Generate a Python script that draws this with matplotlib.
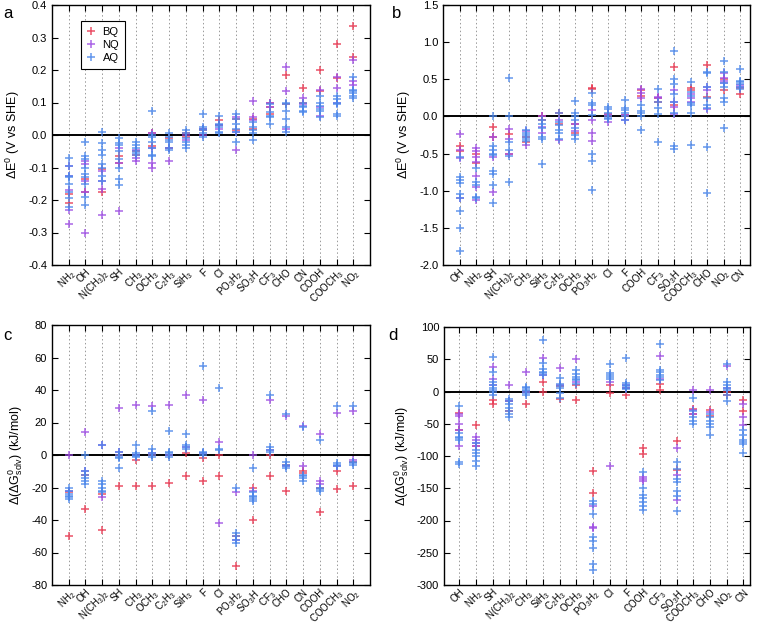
import matplotlib.pyplot as plt
import numpy as np

plt.rcParams['font.family'] = ['Liberation Sans', 'DejaVu Sans']
plt.rcParams['mathtext.default'] = 'regular'

# categories
cats_ac = ['NH$_2$', 'OH', 'N(CH$_3$)$_2$', 'SH', 'CH$_3$', 'OCH$_3$', 'C$_2$H$_3$', 'SiH$_3$', 'F',
           'Cl', 'PO$_3$H$_2$', 'SO$_3$H', 'CF$_3$', 'CHO', 'CN', 'COOH', 'COOCH$_3$', 'NO$_2$']
cats_bd = ['OH', 'NH$_2$', 'SH', 'N(CH$_3$)$_2$', 'CH$_3$', 'SiH$_3$', 'C$_2$H$_3$', 'OCH$_3$', 'PO$_3$H$_2$',
           'Cl', 'F', 'COOH', 'CF$_3$', 'SO$_3$H', 'COOCH$_3$', 'CHO', 'NO$_2$', 'CN']

# panel a: delta E0 (V vs SHE), gas phase
a_bq = [[-0.18, -0.21], [-0.135, -0.175], [-0.105, -0.175], [-0.065, -0.085], [-0.05, -0.06],
        [0.005, -0.035], [-0.04, -0.01], [0.005, -0.005], [0.015, 0.02], [0.045, 0.03],
        [0.05, 0.015], [0.05, 0.02], [0.1, 0.085, 0.065], [0.185, 0.095], [0.145, 0.1],
        [0.2, 0.135], [0.28, 0.175], [0.335, 0.24]]
a_nq = [[-0.095, -0.125, -0.17, -0.23, -0.275], [-0.08, -0.09, -0.14, -0.175, -0.3],
        [-0.11, -0.14, -0.165, -0.245], [-0.04, -0.085, -0.235], [-0.07, -0.08, -0.045],
        [-0.085, -0.1, -0.04, 0.005], [-0.08, -0.04], [0.0, -0.015], [0.0, 0.02], [0.03, 0.02],
        [0.055, 0.01, -0.045], [0.105, 0.055, 0.045], [0.1, 0.085], [0.21, 0.135, 0.02],
        [0.115, 0.095], [0.14, 0.085, 0.06], [0.18, 0.145, 0.1], [0.23, 0.165, 0.155]]
a_aq = [[-0.07, -0.095, -0.125, -0.13, -0.15, -0.175, -0.195, -0.22],
        [-0.02, -0.065, -0.075, -0.1, -0.12, -0.13, -0.15, -0.19, -0.215],
        [0.01, -0.025, -0.045, -0.06, -0.09, -0.1, -0.125, -0.14],
        [-0.01, -0.025, -0.03, -0.05, -0.075, -0.1, -0.135, -0.155],
        [-0.02, -0.03, -0.04, -0.05, -0.055, -0.06],
        [0.075, 0.0, -0.005, -0.02, -0.04, -0.06, -0.065],
        [0.005, -0.005, -0.015, -0.02, -0.04, -0.045],
        [0.015, 0.005, -0.01, -0.02, -0.03, -0.04],
        [0.065, 0.025, 0.02, 0.015, 0.005, -0.005],
        [0.06, 0.035, 0.03, 0.025, 0.01, 0.005],
        [0.065, 0.05, 0.035, 0.02, 0.01, -0.02],
        [0.04, 0.025, 0.015, 0.005, -0.015],
        [0.095, 0.07, 0.06, 0.055, 0.035],
        [0.1, 0.095, 0.075, 0.05, 0.025, 0.01],
        [0.1, 0.09, 0.085, 0.075, 0.07],
        [0.12, 0.1, 0.09, 0.08, 0.075, 0.055],
        [0.12, 0.11, 0.1, 0.095, 0.065, 0.06],
        [0.18, 0.14, 0.135, 0.13, 0.12, 0.115]]

# panel b: delta E0 (V vs SHE), solution
b_bq = [[-0.4, -0.47], [-0.63, -0.5], [-0.14, -0.28], [-0.24, -0.5], [-0.28, -0.35], [0.01, -0.05],
        [0.04, -0.1], [-0.22, -0.1], [0.38, 0.37], [0.03, 0.0], [0.0, 0.02], [0.35, 0.28],
        [0.2, 0.25], [0.67, 0.15], [0.38, 0.35], [0.69, 0.26], [0.5, 0.35], [0.3, 0.38]]
b_nq = [[-0.23, -0.45, -0.56, -1.1], [-0.42, -0.47, -0.55, -0.62, -0.8, -0.95, -1.12],
        [-0.28, -0.55, -1.02], [-0.17, -0.3, -0.5], [-0.38, -0.2], [0.0, -0.22, -0.14],
        [-0.32, -0.05], [-0.2, -0.1], [0.08, -0.05, -0.22, -0.33], [-0.07, 0.02], [-0.05, 0.02],
        [0.37, 0.32, 0.25], [0.26, 0.25], [0.35, 0.2, 0.13, 0.03], [0.3, 0.25, 0.2],
        [0.4, 0.35, 0.1], [0.58, 0.52, 0.48, 0.45], [0.42, 0.4]]
b_aq = [[-0.55, -0.82, -0.85, -0.9, -1.05, -1.1, -1.27, -1.5, -1.81],
        [-0.7, -0.88, -0.92, -1.08, -1.1],
        [0.0, -0.4, -0.45, -0.5, -0.52, -0.73, -0.78, -0.92, -1.16],
        [0.52, 0.01, -0.35, -0.45, -0.53, -0.88],
        [-0.18, -0.22, -0.25, -0.28, -0.3, -0.33],
        [-0.05, -0.1, -0.15, -0.28, -0.3, -0.64],
        [0.05, -0.08, -0.12, -0.18, -0.22, -0.3],
        [0.21, 0.05, 0.0, -0.05, -0.15, -0.25, -0.3],
        [0.32, 0.18, 0.15, 0.02, -0.5, -0.6, -0.99],
        [0.13, 0.1, 0.05, 0.0, -0.02, -0.03],
        [0.22, 0.12, 0.08, 0.05, 0.0, -0.05],
        [0.15, 0.07, 0.05, 0.0, -0.18],
        [0.37, 0.2, 0.12, 0.03, -0.34],
        [0.88, 0.5, 0.43, 0.3, 0.2, 0.05, -0.4, -0.44],
        [0.46, 0.33, 0.28, 0.18, 0.15, 0.05, -0.39],
        [0.6, 0.58, 0.4, 0.25, 0.15, 0.12, -0.41, -1.03],
        [0.75, 0.6, 0.45, 0.4, 0.25, 0.2, -0.15],
        [0.64, 0.48, 0.46, 0.43, 0.4, 0.37]]

# panel c: delta(delta G0 solv) (kJ/mol)
c_bq = [[-50, -23], [-33, -12], [-46, -24], [-19, 0], [-19, -3], [-19, 0], [-17, 0], [-13, 1],
        [-16, -2], [-13, 0], [-68, -50], [-40, -20], [-13, 0], [-22, -6], [-10, -11], [-35, -20],
        [-21, -10], [-19, -4]]
c_nq = [[0, -22], [14, -10], [6, -26], [29, 2], [31, 0], [30, 1], [31, 0], [37, 5], [34, 1],
        [8, -42], [-23, -52], [0, -22], [34, 3], [24, -7], [18, -7], [13, -16, -18], [26, -7], [27, -3]]
c_aq = [[-20, -22, -24, -25, -26, -27], [0, -10, -12, -14, -16, -18], [6, -16, -18, -20, -22, -23],
        [2, 0, -1, -2, -8], [6, 1, 0, -0.5, -1], [27, 4, 1, 0, -1], [15, 2, 1, 0, -1],
        [13, 6, 5, 4], [55, 2, 1, 0], [41, 3, 3.5], [-20, -48, -50, -52, -54],
        [-8, -23, -25, -26, -27, -28], [37, 5, 3, 2], [25, -4, -6, -7, -8], [17, -12, -13, -14, -16],
        [9, -20, -21, -22], [30, -5, -6, -7], [30, -4, -5, -6]]

# panel d: delta(delta G0 solv) (kJ/mol)
d_bq = [[-33, -60], [-52, -85], [-13, -20], [-15, -30], [-19, 0], [15, -1], [-12, 8], [-13, 10],
        [-123, -158], [10, -2], [-5, 5], [-87, -97], [12, 2], [-77, -122], [-35, -27], [-28, -38],
        [-5, 0], [-13, -30]]
d_nq = [[-35, -38, -50, -60, -85], [-70, -75, -80, -85], [38, 20, 10], [10, -15], [31, 0],
        [52, 25], [37, 10], [51, 15], [-178, -210, -212], [-115, 15], [10, 5], [-133, -135, -138],
        [55, 20], [-88, -130, -168], [2, -28, -35], [2, -32], [40, 5], [-20, -40, -52]]
d_aq = [[-22, -65, -70, -72, -75, -110, -112], [-80, -90, -95, -100, -108, -115],
        [54, 30, 15, 10, 5, 2, 0, -5], [-12, -15, -20, -25, -30, -35, -40], [7, 5, 3, 1, -2, -5],
        [80, 44, 35, 30, 28, 25], [21, 12, 9, 5, -3, -10], [33, 27, 22, 20, 18, 12],
        [-170, -175, -190, -225, -232, -243, -268, -277], [42, 28, 25, 22, 20],
        [52, 13, 10, 8, 6, 4], [-125, -150, -160, -165, -172, -178, -183],
        [74, 33, 30, 25, 22, 18], [-110, -120, -135, -140, -155, -162, -186],
        [-10, -30, -40, -45, -50], [-35, -40, -45, -50, -55, -68],
        [43, 14, 10, 5, 2, -5, -15], [-60, -68, -75, -78, -82, -96]]

series_names = ['BQ', 'NQ', 'AQ']
colors = ['#e8344e', '#9d4be3', '#4a86ea']

fig = plt.figure(figsize=(7.6, 6.25), dpi=100)


def panel(rect, cats, data, ylim, yticks, yfmt, ylabel, xlim, legend=False):
    ax = fig.add_axes(rect)
    for i in range(len(cats)):
        ax.axvline(i, color='#999999', lw=0.7, ls=(0, (1.5, 2.5)), zorder=0)
    ax.axhline(0, color='black', lw=1.4, zorder=1)
    for vals, name, col in zip(data, series_names, colors):
        first = True
        for i, v in enumerate(vals):
            ax.plot([i] * len(v), v, ls='none', marker='+', ms=5.5, mew=1.1, color=col, alpha=0.85,
                    label=name if first else None, zorder=2)
            first = False
    ax.set_xlim(*xlim)
    ax.set_ylim(*ylim)
    ax.set_yticks(yticks)
    ax.set_yticklabels([yfmt.format(t + 0.0) if '.' in yfmt else yfmt.format(int(t)) for t in yticks])
    ax.set_xticks(range(len(cats)))
    ax.set_xticklabels(cats, rotation=45, ha='right', rotation_mode='anchor')
    ax.tick_params(direction='in', top=True, right=True, length=4, labelsize=8, width=0.8)
    ax.tick_params(axis='x', pad=1.5, labelsize=7)
    for s in ax.spines.values():
        s.set_linewidth(1.0)
    ax.set_ylabel(ylabel, fontsize=9, labelpad=4)
    if legend:
        leg = ax.legend(loc='upper left', bbox_to_anchor=(0.075, 0.96), fontsize=8,
                        fancybox=False, edgecolor='black', framealpha=1, handlelength=0.8,
                        handletextpad=0.6, borderpad=0.5, labelspacing=0.3)
        leg.get_frame().set_linewidth(0.8)
    return ax


panel([52 / 760, 360 / 625, 318 / 760, 260 / 625], cats_ac, [a_bq, a_nq, a_aq], (-0.4, 0.4),
      np.round(np.arange(-0.4, 0.41, 0.1), 1), '{:.1f}', 'ΔE$^0$ (V vs SHE)', (-1, 18), legend=True)
panel([443 / 760, 360 / 625, 307 / 760, 260 / 625], cats_bd, [b_bq, b_nq, b_aq], (-2.0, 1.5),
      np.round(np.arange(-2.0, 1.51, 0.5), 1), '{:.1f}', 'ΔE$^0$ (V vs SHE)', (-1, 17.6))
panel([52 / 760, 40 / 625, 318 / 760, 260 / 625], cats_ac, [c_bq, c_nq, c_aq], (-80, 80),
      np.arange(-80, 81, 20), '{:d}', 'Δ(ΔG$^0_{solv}$) (kJ/mol)', (-1, 18))
panel([444 / 760, 40 / 625, 306 / 760, 258 / 625], cats_bd, [d_bq, d_nq, d_aq], (-300, 100),
      np.arange(-300, 101, 50), '{:d}', 'Δ(ΔG$^0_{solv}$) (kJ/mol)', (-0.92, 17.4))

# panel letters
for lx, ly, letter in [(3, 14, 'a'), (392, 14, 'b'), (3, 336, 'c'), (388, 336, 'd')]:
    fig.text(lx / 760, 1 - ly / 625, letter, fontsize=12, va='center', ha='left')

fig.savefig('out.png', dpi=100)
